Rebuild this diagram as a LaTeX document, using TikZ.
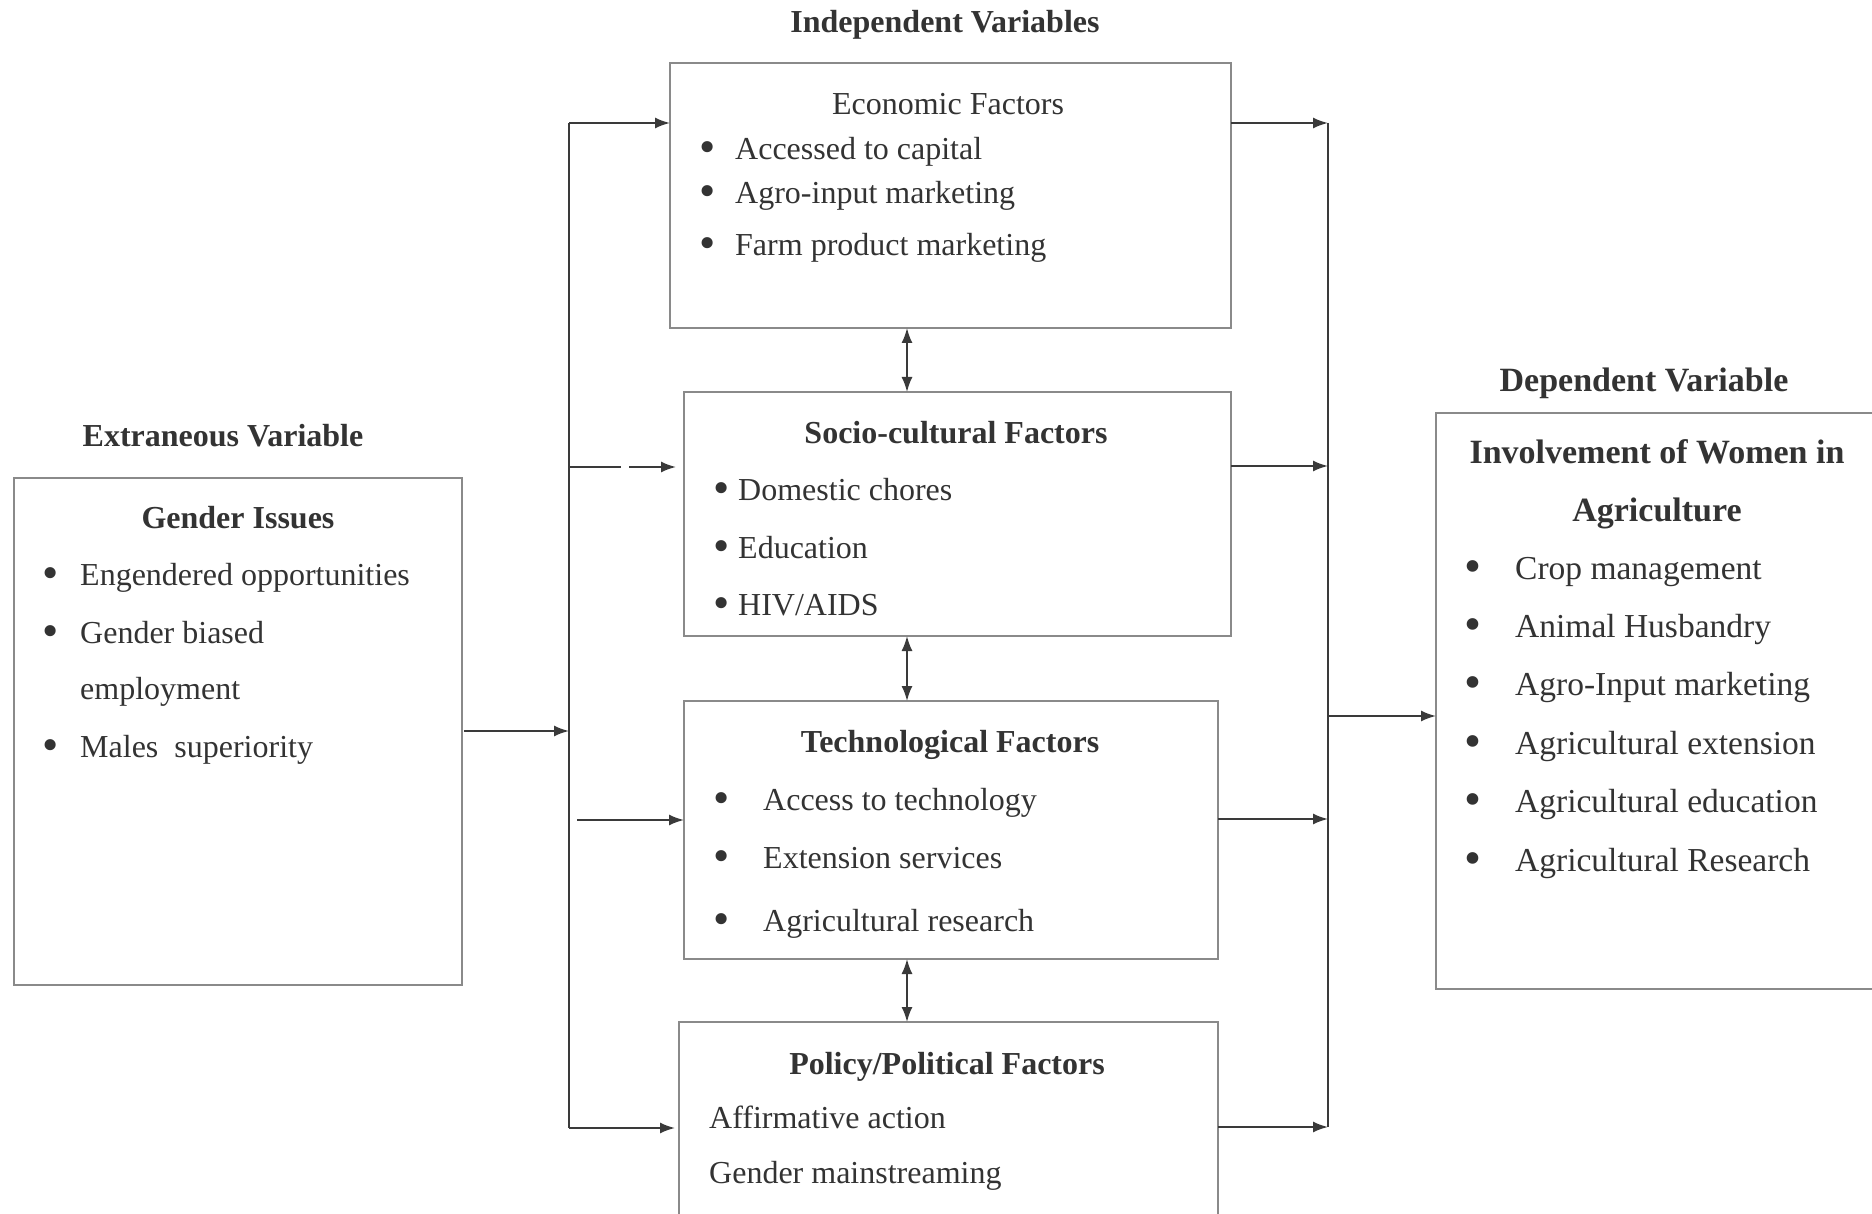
\documentclass[tikz,border=0pt]{standalone}
\usepackage{fontspec}
\usepackage{graphicx}
\setmainfont{Liberation Serif}
\usetikzlibrary{arrows.meta}
\definecolor{ink}{HTML}{333333}
\definecolor{linec}{HTML}{3A3A3A}
\definecolor{boxc}{HTML}{8A8A8A}
\newcommand\bigbul{\raisebox{-0.1em}{\scalebox{1.45}{\textbullet}}}
\newcommand\bitem[2]{\makebox[#1][l]{\hspace{-0.08em}\bigbul}#2}
\tikzset{
  box/.style={draw=boxc, line width=1.3pt, inner sep=0pt, outer sep=0pt},
  txt/.style={text=ink, inner sep=0pt, yshift=-2.5pt},
  reg/.style={txt, font=\fontsize{32}{38}\selectfont},
  hd/.style={txt, font=\fontsize{32}{38}\selectfont\bfseries},
  rreg/.style={txt, font=\fontsize{33.5}{40}\selectfont},
  rhd/.style={txt, font=\fontsize{34}{40}\selectfont\bfseries},
  conn/.style={draw=linec, line width=1.8pt},
  arr/.style={conn, -{Latex[length=15pt,width=11pt]}},
  darr/.style={conn, {Latex[length=15pt,width=11pt]}-{Latex[length=15pt,width=11pt]}},
}
\begin{document}
\begin{tikzpicture}[x=1pt,y=-1pt]
\useasboundingbox (0,0) rectangle (1872,1214);
\fill[white] (0,0) rectangle (1872,1214);

% boxes
\node[box, minimum width=561pt, minimum height=265pt] (econ) at (950.5,195.5) {};
\node[box, minimum width=547pt, minimum height=244pt] (socio) at (957.5,514) {};
\node[box, minimum width=534pt, minimum height=258pt] (tech) at (951,830) {};
\node[box, minimum width=539pt, minimum height=218pt] (policy) at (948.5,1131) {};
\node[box, minimum width=448pt, minimum height=507pt] (gender) at (238,731.5) {};
\node[box, minimum width=459pt, minimum height=576pt] (dep) at (1665.5,701) {};

% headings
\node[hd, anchor=base] (tIndep) at (945,30) {Independent Variables};
\node[hd, anchor=base] (tExtr) at (223,444) {Extraneous Variable};
\node[rhd, anchor=base] (tDep) at (1644,389) {Dependent Variable};

% economic
\node[reg, anchor=base] (eT) at (948,112) {Economic Factors};
\node[reg, anchor=base west] (e1) at (701.4,157) {\bitem{33.6pt}{Accessed to capital}};
\node[reg, anchor=base west] (e2) at (701.4,201) {\bitem{33.6pt}{Agro-input marketing}};
\node[reg, anchor=base west] (e3) at (701.4,253) {\bitem{33.6pt}{Farm product marketing}};

% socio-cultural
\node[hd, anchor=base] (sT) at (956,441) {Socio-cultural Factors};
\node[reg, anchor=base west] (s1) at (715.4,498) {\bitem{22.6pt}{Domestic chores}};
\node[reg, anchor=base west] (s2) at (715.4,556) {\bitem{22.6pt}{Education}};
\node[reg, anchor=base west] (s3) at (715.4,613) {\bitem{22.6pt}{HIV/AIDS}};

% technological
\node[hd, anchor=base] (tT) at (950,750) {Technological Factors};
\node[reg, anchor=base west] (t1) at (715.4,808) {\bitem{47.6pt}{Access to technology}};
\node[reg, anchor=base west] (t2) at (715.4,866) {\bitem{47.6pt}{Extension services}};
\node[reg, anchor=base west] (t3) at (715.4,929) {\bitem{47.6pt}{Agricultural research}};

% policy
\node[hd, anchor=base] (pT) at (947,1072) {Policy/Political Factors};
\node[reg, anchor=base west] (p1) at (709,1126) {Affirmative action};
\node[reg, anchor=base west] (p2) at (709,1181) {Gender mainstreaming};

% gender
\node[hd, anchor=base] (gT) at (238,526) {Gender Issues};
\node[reg, anchor=base west] (g1) at (44.4,583) {\bitem{35.6pt}{Engendered opportunities}};
\node[reg, anchor=base west] (g2) at (44.4,641) {\bitem{35.6pt}{Gender biased}};
\node[reg, anchor=base west] (g2b) at (80,697) {employment};
\node[reg, anchor=base west] (g3) at (44.4,755) {\bitem{35.6pt}{Males\ \ superiority}};

% dependent
\node[rhd, anchor=base] (dT1) at (1657,461) {Involvement of Women in};
\node[rhd, anchor=base] (dT2) at (1657,519) {Agriculture};
\node[rreg, anchor=base west] (d1) at (1467,577) {\bitem{48pt}{Crop management}};
\node[rreg, anchor=base west] (d2) at (1467,635) {\bitem{48pt}{Animal Husbandry}};
\node[rreg, anchor=base west] (d3) at (1467,693) {\bitem{48pt}{Agro-Input marketing}};
\node[rreg, anchor=base west] (d4) at (1467,752) {\bitem{48pt}{Agricultural extension}};
\node[rreg, anchor=base west] (d5) at (1467,810) {\bitem{48pt}{Agricultural education}};
\node[rreg, anchor=base west] (d6) at (1467,869) {\bitem{48pt}{Agricultural Research}};

% bus coordinates
\coordinate (bLt) at (569,123);
\coordinate (bLb) at (569,1128);
\coordinate (bRt) at (1328,123);
\coordinate (bRb) at (1328,1127);
\coordinate (sL) at (569,467);
\coordinate (tL) at (577,820);
\coordinate (gJ) at (569,731);
\coordinate (sR) at (1328,466);
\coordinate (tR) at (1328,819);
\coordinate (dJ) at (1328,716);
\coordinate (dcol) at (907,0);

% left bus
\draw[conn] (bLt) -- (bLb);
\draw[arr] (bLt) -- (bLt -| econ.west);
\draw[arr, shorten >=8pt, dash pattern=on 52pt off 8pt on 200pt] (sL) -- (sL -| socio.west);
\draw[arr] (tL) -- (tL -| tech.west);
\draw[arr, shorten >=4pt] (bLb) -- (bLb -| policy.west);
\draw[arr, shorten <=2pt] (gender.east |- gJ) -- (gJ);

% right bus
\draw[conn] (bRt) -- (bRb);
\draw[arr] (econ.east |- bRt) -- (bRt);
\draw[arr] (socio.east |- sR) -- (sR);
\draw[arr] (tech.east |- tR) -- (tR);
\draw[arr] (policy.east |- bRb) -- (bRb);
\draw[arr] (dJ) -- (dJ -| dep.west);

% between boxes
\draw[darr] (econ.south -| dcol) -- (socio.north -| dcol);
\draw[darr] (socio.south -| dcol) -- (tech.north -| dcol);
\draw[darr] (tech.south -| dcol) -- (policy.north -| dcol);
\end{tikzpicture}
\end{document}
